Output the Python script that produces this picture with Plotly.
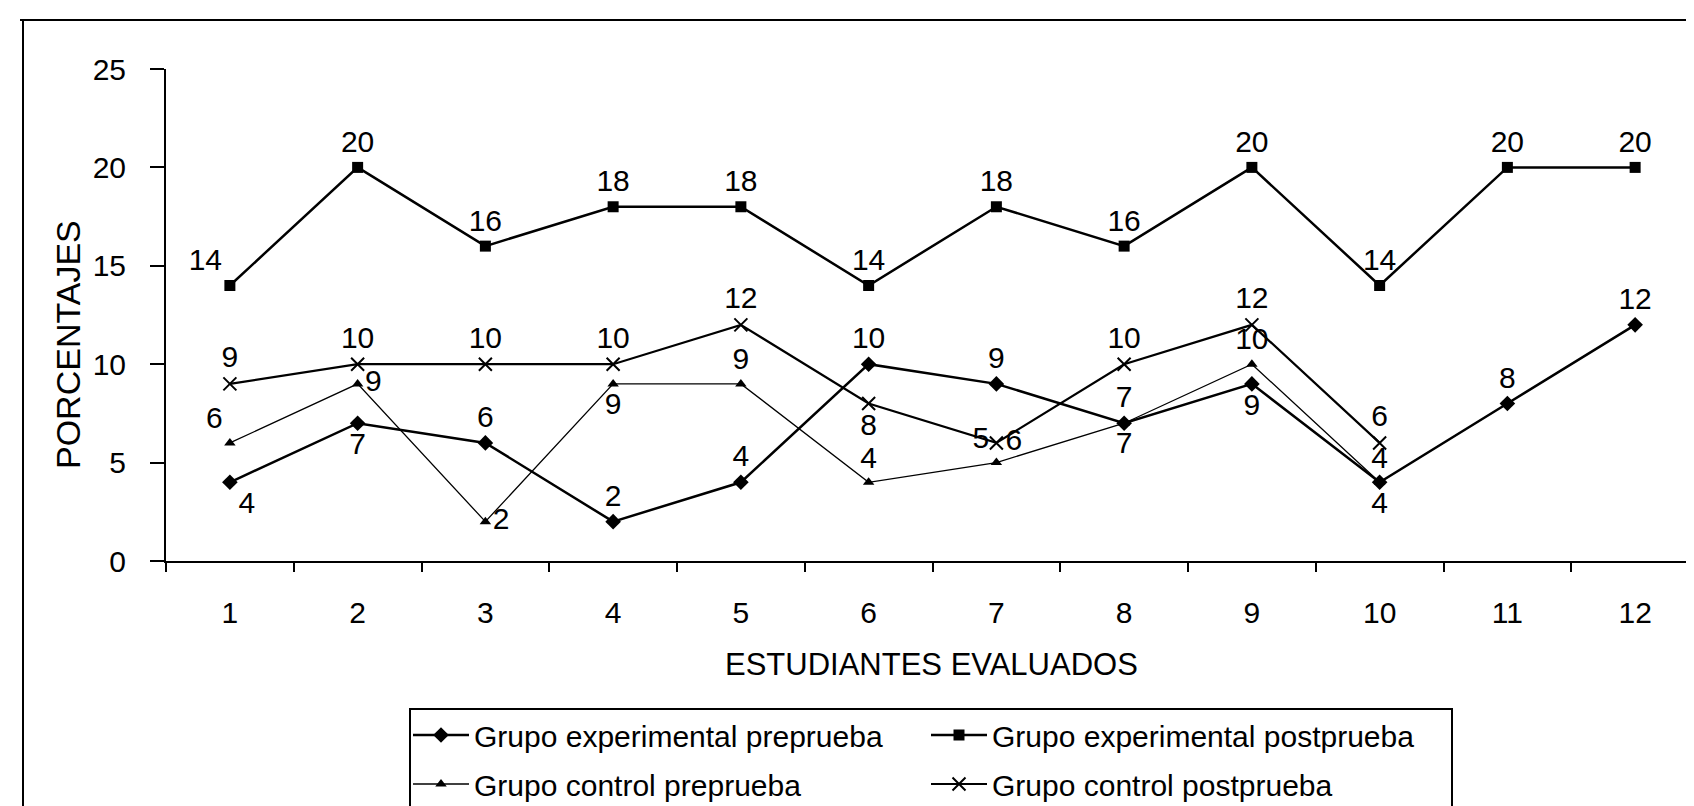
import plotly.graph_objects as go

estudiantes = [1, 2, 3, 4, 5, 6, 7, 8, 9, 10, 11, 12]
exp_pre = [4, 7, 6, 2, 4, 10, 9, 7, 9, 4, 8, 12]
exp_post = [14, 20, 16, 18, 18, 14, 18, 16, 20, 14, 20, 20]
ctrl_pre = [6, 9, 2, 9, 9, 4, 5, 7, 10, 4]
ctrl_post = [9, 10, 10, 10, 12, 8, 6, 10, 12, 6]
y_ticks = [0, 5, 10, 15, 20, 25]
x_title = "ESTUDIANTES EVALUADOS"
y_title = "PORCENTAJES"

FONT = "Liberation Sans, Arial, sans-serif"
FS = 30

exp_pre_pos = ["bottom right", "bottom center", "top center", "top center", "top center", "top center",
               "top center", "top center", "bottom center", "bottom center", "top center", "top center"]
exp_post_pos = ["top left"] + ["top center"] * 11
ctrl_pre_pos = ["top left", "middle right", "middle right", "bottom center", "top center", "top center",
                "top left", "bottom center", "top center", "top center"]
ctrl_post_pos = ["top center", "top center", "top center", "top center", "top center", "bottom center",
                 "middle right", "top center", "top center", "top center"]

fig = go.Figure()

def add(xs, ys, name, symbol, msize, lw, pos, legend):
    fig.add_trace(go.Scatter(
        x=xs[:len(ys)], y=ys, name=name, mode="lines+markers+text",
        line=dict(color="black", width=lw),
        marker=dict(symbol=symbol, size=msize, color="black",
                    line=dict(color="black", width=2 if "x" in symbol else 0)),
        text=[str(v) for v in ys], textposition=pos,
        textfont=dict(family=FONT, size=FS, color="black"),
        cliponaxis=False, legend=legend,
    ))

add(estudiantes, exp_pre, "Grupo experimental preprueba", "diamond", 12, 2.5, exp_pre_pos, "legend")
add(estudiantes, exp_post, "Grupo experimental postprueba", "square", 11, 2.5, exp_post_pos, "legend")
add(estudiantes, ctrl_pre, "Grupo control preprueba", "triangle-up", 10, 1.3, ctrl_pre_pos, "legend2")
add(estudiantes, ctrl_post, "Grupo control postprueba", "x-thin", 13, 2.2, ctrl_post_pos, "legend2")

W, H = 1694, 806
L, R, T, B = 158, 3, 61, 253
pw, ph = W - L - R, H - T - B

def px_x(p):
    return (p - L) / pw

def px_y(p):
    return (H - B - p) / ph

legend_common = dict(orientation="h", xanchor="left", yanchor="middle",
                     font=dict(family=FONT, size=FS, color="black"),
                     itemwidth=56, entrywidth=447, entrywidthmode="pixels",
                     bgcolor="rgba(0,0,0,0)", borderwidth=0)

fig.update_layout(
    width=W, height=H,
    margin=dict(l=L, r=R, t=T, b=B, autoexpand=False),
    paper_bgcolor="white", plot_bgcolor="white",
    font=dict(family=FONT, size=FS, color="black"),
    showlegend=True,
    legend=dict(x=px_x(400), y=px_y(727), **legend_common),
    legend2=dict(x=px_x(400), y=px_y(776), **legend_common),
    xaxis=dict(
        range=[0.5, 12.5], tickmode="array", tickvals=estudiantes,
        ticktext=[str(e) for e in estudiantes], ticks="", ticklabelstandoff=24,
        showline=True, linecolor="black", linewidth=2, showgrid=False, zeroline=False,
        tickfont=dict(family=FONT, size=FS),
        minor=dict(ticks="outside", tickmode="array",
                   tickvals=[e - 0.5 for e in estudiantes] + [estudiantes[-1] + 0.5],
                   ticklen=9, tickwidth=2, tickcolor="black", showgrid=False),
    ),
    yaxis=dict(
        range=[0, 25], tickmode="array", tickvals=y_ticks, ticks="outside", ticklen=14,
        tickwidth=2, tickcolor="black", ticklabelstandoff=18,
        showline=True, linecolor="black", linewidth=2, showgrid=False, zeroline=False,
        tickfont=dict(family=FONT, size=FS),
    ),
    annotations=[
        dict(text=x_title, xref="paper", yref="paper", x=px_x(923), y=px_y(656),
             xanchor="center", yanchor="middle", showarrow=False,
             font=dict(family=FONT, size=31, color="black")),
        dict(text=y_title, xref="paper", yref="paper", x=px_x(60), y=px_y(337),
             xanchor="center", yanchor="middle", showarrow=False, textangle=-90,
             font=dict(family=FONT, size=34, color="black")),
    ],
    shapes=[
        dict(type="rect", xref="paper", yref="paper",
             x0=px_x(402), x1=px_x(1444), y0=px_y(802), y1=px_y(701),
             line=dict(color="black", width=2), fillcolor="rgba(0,0,0,0)"),
        dict(type="line", xref="paper", yref="paper",
             x0=px_x(12), x1=px_x(1694), y0=px_y(12), y1=px_y(12),
             line=dict(color="black", width=2)),
        dict(type="line", xref="paper", yref="paper",
             x0=px_x(15), x1=px_x(15), y0=px_y(12), y1=px_y(806),
             line=dict(color="black", width=2)),
    ],
)

fig.write_html("out.html")
